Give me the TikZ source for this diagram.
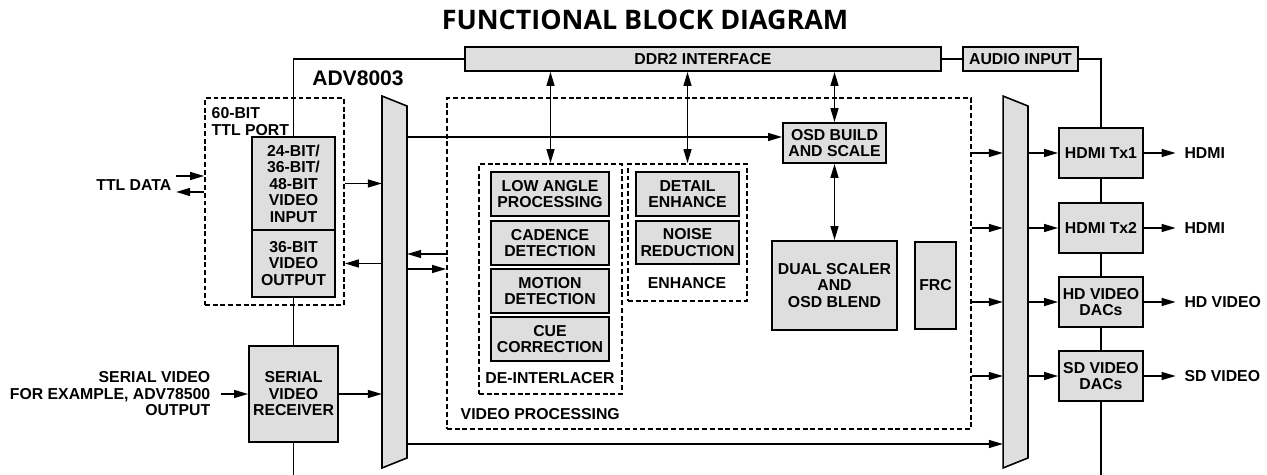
\documentclass[tikz,border=0pt]{standalone}
\usepackage{fontspec}
\setmainfont{Liberation Sans}
\newfontfamily\titlefont{Open Sans}
\usetikzlibrary{arrows.meta,fit,calc}
\definecolor{boxgray}{gray}{0.87}
\begin{document}
\begin{tikzpicture}[x=0.02cm,y=-0.02cm,line width=1.1pt,
  txt/.style={inner sep=1pt,font=\fontsize{9}{9.4}\selectfont\bfseries,align=center},
  blk/.style={txt,draw,fill=boxgray,line width=0.9pt,inner sep=0pt},
  sz/.style 2 args={minimum width=#1*0.2mm,minimum height=#2*0.2mm},
  grp/.style={draw,line width=0.8pt,dash pattern=on 2.8pt off 1.6pt,inner sep=0pt},
  arr/.style={-{Triangle[length=8pt,width=4.4pt]}},
  darr/.style={{Triangle[length=8pt,width=4.4pt]}-{Triangle[length=8pt,width=4.4pt]}}]
\useasboundingbox (0,0) rectangle (1267,475);
\node[font=\titlefont\fontsize{15.3}{18}\selectfont\bfseries] (title) at (645,20) {FUNCTIONAL BLOCK DIAGRAM};
\node[txt,font=\fontsize{12}{14}\selectfont\bfseries] (chip) at (358,78) {ADV8003};
\node[blk,sz={476}{24}] (ddr) at (703,59) {DDR2 INTERFACE};
\node[blk,sz={115}{24}] (aud) at (1020.5,59) {AUDIO INPUT};
\node[grp,fit={(205,98) (344,305)}] (port) {};
\node[txt,anchor=north west,align=left] (portlbl) at (209,105) {60-BIT\\TTL PORT};
\node[blk,sz={83}{93}] (vin) at (293.5,183.5) {24-BIT/\\36-BIT/\\48-BIT\\VIDEO\\INPUT};
\node[blk,sz={83}{67}] (vout) at (293.5,263.5) {36-BIT\\VIDEO\\OUTPUT};
\node[blk,sz={89}{96}] (svr) at (293.5,394) {SERIAL\\VIDEO\\RECEIVER};
\node[txt,anchor=east] (ttl) at (174,185) {TTL DATA};
\node[txt,anchor=east,align=right] (ser) at (213,394) {SERIAL VIDEO\\FOR EXAMPLE, ADV78500\\OUTPUT};
\node[fit={(383,97) (406,467)},inner sep=0pt] (muxa) {};
\node[fit={(1004,97) (1027,467)},inner sep=0pt] (muxb) {};
\foreach \m in {muxa,muxb}
  \filldraw[fill=boxgray,line width=0.9pt] (\m.north west) -- ([yshift=-0.2cm]\m.north east) -- ([yshift=0.2cm]\m.south east) -- (\m.south west) -- cycle;
\node[grp,fit={(447,98) (971,429)}] (vp) {};
\node[txt,anchor=west] (vplbl) at (458,414) {VIDEO PROCESSING};
\node[grp,fit={(479,164) (622,394)}] (deint) {};
\node[txt] (dilbl) at (550,378) {DE-INTERLACER};
\foreach \n/\y/\t in {lap/194/LOW ANGLE\\PROCESSING,cad/243/CADENCE\\DETECTION,mot/291/MOTION\\DETECTION,cue/339/CUE\\CORRECTION}
  \node[blk,sz={118}{44}] (\n) at (550,\y) {\t};
\node[grp,fit={(628,164) (747,301)}] (enh) {};
\node[txt] (enhlbl) at (687,283) {ENHANCE};
\node[blk,sz={103}{44}] (det) at (687.5,194) {DETAIL\\ENHANCE};
\node[blk,sz={103}{43}] (nr) at (687.5,242.5) {NOISE\\REDUCTION};
\node[blk,sz={103}{40}] (osd) at (834.5,143) {OSD BUILD\\AND SCALE};
\node[blk,sz={125}{89}] (dual) at (834.5,285.5) {DUAL SCALER\\AND\\OSD BLEND};
\node[blk,sz={41}{87}] (frc) at (935.5,285.5) {FRC};
\foreach \n/\y/\t in {tx1/153/HDMI Tx1,tx2/228/HDMI Tx2,hd/302/HD VIDEO\\DACs,sd/376/SD VIDEO\\DACs}
  \node[blk,sz={84}{50}] (\n) at (1101,\y) {\t};
\draw (ddr.west) -| (vin.north);
\draw (vout.south) -- (svr.north);
\draw (svr.south) -- (svr.south |- 0,475);
\draw (ddr.east) -- (aud.west);
\draw (aud.east) -| (tx1.north);
\foreach \a/\b in {tx1/tx2,tx2/hd,hd/sd} \draw (\a.south) -- (\b.north);
\draw (sd.south) -- (sd.south |- 0,475);
\coordinate (ttlin) at (176,176);
\coordinate (ttlout) at (176,192);
\draw[arr] (ttlin) -- (ttlin -| port.west);
\draw[arr] (ttlout -| port.west) -- (ttlout);
\draw[arr] (vin.east -| port.east) -- (vin.east -| muxa.west);
\draw[arr] (vout.east -| muxa.west) -- (vout.east -| port.east);
\draw[arr] ([xshift=0.16cm]ser.east) -- (svr.west);
\draw[arr] (svr.east) -- (svr.east -| muxa.west);
\coordinate (osdin) at ($(osd.west)+(0,-6)$);
\draw[arr] (osdin -| muxa.east) -- (osdin);
\coordinate (vpin) at ($(vp.west)+(0,5.5)$);
\coordinate (vpout) at ($(vp.west)+(0,-9.5)$);
\draw[arr] (vpout) -- (vpout -| muxa.east);
\draw[arr] (vpin -| muxa.east) -- (vpin);
\foreach \n in {deint,enh,osd} \draw[darr] (\n.north |- ddr.south) -- (\n.north);
\draw[darr] (osd.south) -- (dual.north);
\coordinate (bus) at (muxa.east |- 0,444);
\draw[arr] (bus) -- (bus -| muxb.west);
\foreach \n/\t in {tx1/HDMI,tx2/HDMI,hd/HD VIDEO,sd/SD VIDEO} {
  \draw[arr] (\n -| vp.east) -- (\n -| muxb.west);
  \draw[arr] (\n -| muxb.east) -- (\n.west);
  \draw[arr] (\n.east) -- ++(32,0) coordinate (e\n);
  \node[txt,anchor=west] (o\n) at ([xshift=0.12cm]e\n) {\t};
}
\end{tikzpicture}
\end{document}
